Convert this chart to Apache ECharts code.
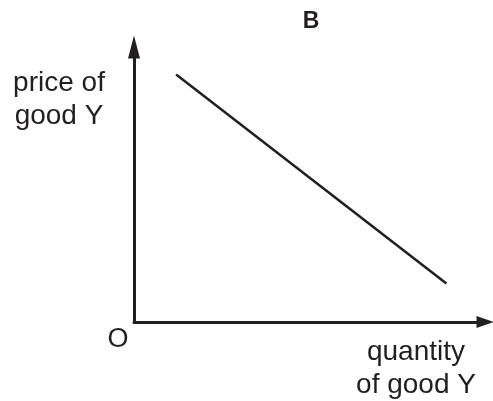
<!DOCTYPE html>
<html>
<head>
<meta charset="utf-8">
<script src="https://cdn.jsdelivr.net/npm/echarts@6/dist/echarts.min.js"></script>
<style>
  html, body { margin: 0; padding: 0; background: #fff; }
  #chart { width: 493px; height: 401px; }
</style>
</head>
<body>
<div id="chart"></div>
<script>
// demand line for good Y, in axis units (0..100)
var quantity = [12, 89];
var price = [90, 14];

var panelTitle = 'B';
var yAxisLabel = ['price of', 'good Y'];
var xAxisLabel = ['quantity', 'of good Y'];
var originLabel = 'O';

var ink = '#231f20';
var font = 'Liberation Sans, Arial, sans-serif';

var chart = echarts.init(document.getElementById('chart'));

var lineData = quantity.map(function (q, i) { return [q, price[i]]; });

chart.setOption({
  animation: false,
  grid: { left: 134, right: 8, top: 47, bottom: 79 },
  xAxis: {
    type: 'value', min: 0, max: 100,
    axisLine: { show: true, symbol: ['none', 'triangle'], symbolSize: [12, 17], lineStyle: { color: ink, width: 3 } },
    axisTick: { show: false }, axisLabel: { show: false }, splitLine: { show: false }
  },
  yAxis: {
    type: 'value', min: 0, max: 100,
    axisLine: { show: true, symbol: ['none', 'triangle'], symbolSize: [12, 23], lineStyle: { color: ink, width: 3 } },
    axisTick: { show: false }, axisLabel: { show: false }, splitLine: { show: false }
  },
  series: [{
    type: 'line',
    data: lineData,
    symbol: 'none',
    lineStyle: { color: ink, width: 2.5 }
  }],
  graphic: [
    { type: 'text', x: 311, y: 22, style: { text: panelTitle, font: 'bold 23px ' + font, fill: ink, align: 'center', verticalAlign: 'middle' } },
    { type: 'text', x: 59, y: 100, style: { text: yAxisLabel.join('\n'), font: '28px ' + font, lineHeight: 33, fill: ink, align: 'center', verticalAlign: 'middle' } },
    { type: 'text', x: 118, y: 340, style: { text: originLabel, font: '27px ' + font, fill: ink, align: 'center', verticalAlign: 'middle' } },
    { type: 'text', x: 416, y: 369, style: { text: xAxisLabel.join('\n'), font: '28px ' + font, lineHeight: 33, fill: ink, align: 'center', verticalAlign: 'middle' } }
  ]
});
</script>
</body>
</html>
